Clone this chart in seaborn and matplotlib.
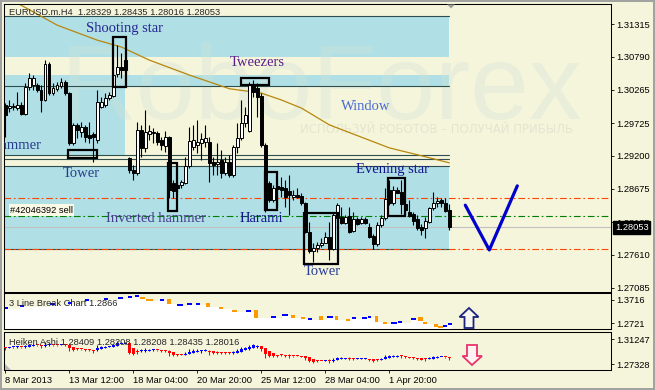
import matplotlib
matplotlib.use("Agg")
import matplotlib.pyplot as plt
import matplotlib.transforms as mtransforms
from matplotlib.patches import Rectangle, Polygon
from matplotlib.ticker import FormatStrFormatter
import numpy as np
import pandas as pd
import seaborn as sns

# ---------------- data ----------------
opens = [1.3002, 1.2997, 1.2999, 1.2997, 1.3002, 1.2987, 1.3031, 1.3034, 1.3034, 1.3026,
         1.3010, 1.3068, 1.3021, 1.3028, 1.3032, 1.3039, 1.3021, 1.2941, 1.2970, 1.2959,
         1.2967, 1.2954, 1.2955, 1.2946, 1.2999, 1.3002, 1.3013, 1.3016, 1.3052, 1.3063,
         1.3074, 1.2917, 1.2898, 1.2893, 1.2962, 1.2933, 1.2955, 1.2959, 1.2957, 1.2946,
         1.2936, 1.2951, 1.2877, 1.2873, 1.2873, 1.2877, 1.2904, 1.2934, 1.2938, 1.2941,
         1.2942, 1.2942, 1.2910, 1.2907, 1.2914, 1.2893, 1.2910, 1.2889, 1.2934, 1.2949,
         1.2973, 1.2960, 1.3034, 1.3029, 1.3016, 1.2938, 1.2877, 1.2849, 1.2872, 1.2870,
         1.2869, 1.2864, 1.2854, 1.2857, 1.2856, 1.2845, 1.2798, 1.2767, 1.2772, 1.2777,
         1.2780, 1.2790, 1.2771, 1.2820, 1.2822, 1.2812, 1.2824, 1.2800, 1.2819, 1.2812,
         1.2819, 1.2806, 1.2792, 1.2779, 1.2809, 1.2820, 1.2865, 1.2845, 1.2865, 1.2862,
         1.2843, 1.2830, 1.2827, 1.2819, 1.2806, 1.2804, 1.2814, 1.2837, 1.2845, 1.2849,
         1.2845, 1.28329]
highs = [1.3005, 1.3010, 1.3005, 1.3023, 1.3007, 1.3037, 1.3053, 1.3050, 1.3037, 1.3034,
         1.3074, 1.3071, 1.3037, 1.3039, 1.3045, 1.3042, 1.3023, 1.2973, 1.2973, 1.2975,
         1.2970, 1.2975, 1.2959, 1.3026, 1.3015, 1.3021, 1.3023, 1.3055, 1.3098, 1.3085,
         1.3077, 1.2918, 1.2906, 1.2975, 1.2970, 1.2994, 1.2970, 1.2965, 1.2960, 1.2951,
         1.2960, 1.2952, 1.2881, 1.2878, 1.2881, 1.2918, 1.2967, 1.2970, 1.2978, 1.2957,
         1.2970, 1.2951, 1.2918, 1.2941, 1.2930, 1.2918, 1.2922, 1.2938, 1.2973, 1.3010,
         1.2999, 1.3039, 1.3042, 1.3037, 1.3021, 1.2941, 1.2880, 1.2873, 1.2881, 1.2886,
         1.2881, 1.2889, 1.2865, 1.2869, 1.2861, 1.2846, 1.2814, 1.2780, 1.2782, 1.2788,
         1.2798, 1.2814, 1.2830, 1.2845, 1.2838, 1.2825, 1.2838, 1.2830, 1.2822, 1.2822,
         1.2822, 1.2812, 1.2795, 1.2814, 1.2825, 1.2869, 1.2881, 1.2872, 1.2870, 1.2881,
         1.2849, 1.2849, 1.2830, 1.2825, 1.2811, 1.2822, 1.2838, 1.2862, 1.2854, 1.2852,
         1.2852, 1.28435]
lows = [1.2950, 1.2991, 1.2994, 1.2994, 1.2986, 1.2986, 1.3026, 1.3026, 1.3023, 1.2991,
        1.3008, 1.3018, 1.3018, 1.3024, 1.3029, 1.3018, 1.2938, 1.2938, 1.2949, 1.2951,
        1.2942, 1.2941, 1.2910, 1.2941, 1.2997, 1.2999, 1.3010, 1.3015, 1.3047, 1.3045,
        1.3055, 1.2893, 1.2881, 1.2889, 1.2918, 1.2926, 1.2946, 1.2941, 1.2938, 1.2930,
        1.2926, 1.2853, 1.2853, 1.2862, 1.2869, 1.2875, 1.2901, 1.2930, 1.2925, 1.2914,
        1.2934, 1.2878, 1.2889, 1.2889, 1.2885, 1.2889, 1.2886, 1.2886, 1.2925, 1.2946,
        1.2967, 1.2959, 1.3015, 1.2983, 1.2934, 1.2830, 1.2846, 1.2846, 1.2838, 1.2854,
        1.2838, 1.2825, 1.2849, 1.2853, 1.2841, 1.2796, 1.2764, 1.2750, 1.2766, 1.2774,
        1.2780, 1.2753, 1.2769, 1.2814, 1.2811, 1.2811, 1.2796, 1.2798, 1.2809, 1.2811,
        1.2811, 1.2788, 1.2771, 1.2775, 1.2806, 1.2817, 1.2841, 1.2841, 1.2861, 1.2827,
        1.2827, 1.2822, 1.2809, 1.2801, 1.2793, 1.2788, 1.2812, 1.2833, 1.2838, 1.2838,
        1.2830, 1.28016]
closes = [1.2986, 1.3000, 1.3000, 1.3002, 1.2987, 1.3031, 1.3045, 1.3045, 1.3026, 1.3010,
          1.3068, 1.3021, 1.3029, 1.3034, 1.3039, 1.3021, 1.2941, 1.2970, 1.2962, 1.2967,
          1.2951, 1.2949, 1.2951, 1.3007, 1.3007, 1.3013, 1.3018, 1.3050, 1.3063, 1.3058,
          1.3058, 1.2898, 1.2893, 1.2962, 1.2933, 1.2959, 1.2960, 1.2957, 1.2942, 1.2938,
          1.2951, 1.2865, 1.2864, 1.2869, 1.2878, 1.2904, 1.2944, 1.2946, 1.2942, 1.2947,
          1.2949, 1.2909, 1.2906, 1.2910, 1.2893, 1.2910, 1.2889, 1.2934, 1.2949, 1.2973,
          1.2986, 1.3034, 1.3023, 1.3015, 1.2938, 1.2833, 1.2849, 1.2869, 1.2867, 1.2865,
          1.2854, 1.2857, 1.2857, 1.2854, 1.2845, 1.2798, 1.2767, 1.2772, 1.2777, 1.2780,
          1.2790, 1.2771, 1.2825, 1.2841, 1.2812, 1.2822, 1.2798, 1.2819, 1.2811, 1.2819,
          1.2812, 1.2790, 1.2779, 1.2809, 1.2820, 1.2851, 1.2845, 1.2865, 1.2861, 1.2843,
          1.2833, 1.2824, 1.2816, 1.2804, 1.2801, 1.2816, 1.2837, 1.2845, 1.2848, 1.2845,
          1.2832, 1.28053]

# moving average read at a few candle positions
ma_idx = [-1, 4, 13, 23, 29, 36, 46, 56, 64, 69, 74, 81, 96, 103, 111]
ma_val = [1.3178, 1.3162, 1.3130, 1.3106, 1.3095, 1.3074, 1.3050, 1.3028, 1.3021,
          1.3010, 1.2997, 1.2970, 1.2933, 1.2922, 1.2909]

# forecast "V" drawing
v_idx = [115, 121, 128]
v_val = [1.2841, 1.2769, 1.2872]

price_ticks = [1.31315, 1.30790, 1.30265, 1.29725, 1.29200, 1.28675, 1.28135, 1.27610, 1.27085]
last_price = 1.28053
order_label = "#42046392 sell"
sell_level = 1.28236
sl_level = 1.28525
tp_level = 1.27706

# support / resistance zones
zone_lo = [1.30790, 1.30324, 1.27706]
zone_hi = [1.31448, 1.30501, 1.29039]
zone_end = 110.9
left_zone_lo = 1.29216
left_zone_hi = 1.30324
left_zone_end = 29.9
zone_lines = [1.31448, 1.30324, 1.29216, 1.29151, 1.29039, 1.27706]

# pattern boxes
box_i0 = [26.85, 58.85, 15.7, 40.7, 64.9, 74.7, 95.7]
box_i1 = [30.1, 66.0, 22.9, 42.9, 67.9, 83.2, 100.0]
box_lo = [1.3031, 1.3034, 1.2917, 1.2832, 1.2833, 1.2747, 1.2824]
box_hi = [1.3111, 1.3045, 1.2930, 1.2909, 1.2894, 1.2828, 1.2885]

# pattern labels
lab_text = ["Shooting star", "Tweezers", "Window", "Tower", "Evening star",
            "Inverted hammer", "Harami", "Tower"]
lab_i = [29.8, 62.9, 90.0, 18.9, 96.7, 37.8, 63.9, 79.2]
lab_p = [1.31255, 1.30709, 1.29987, 1.28911, 1.28975, 1.28188, 1.28188, 1.27337]
lab_col = ["#27278F", "#5A1E8C", "#4A6CD4", "#283C8C", "#14148C", "#483D8B", "#14148C", "#283C96"]
hammer_i = 9.2
hammer_p = 1.29376

# 3 Line Break indicator blocks
lb_x0 = [-0.1, 3.7, 11.2, 15.7, 19.9, 24.7, 28.2, 30.7, 32.4, 33.7, 35.2, 38.7, 40.4, 42.9,
         45.4, 47.7, 50.2, 53.4, 56.7, 60.2, 62.2, 66.4, 69.2, 71.4, 73.9, 75.7, 78.4, 80.4,
         82.4, 85.2, 86.7, 89.2, 90.7, 92.4, 94.4, 96.4, 98.2, 101.4, 103.2, 104.4, 107.2,
         108.2, 109.4, 110.7]
lb_x1 = [0.7, 4.7, 12.4, 16.7, 20.9, 25.7, 29.4, 31.7, 33.4, 34.9, 36.9, 39.7, 41.4, 44.4,
         46.7, 48.7, 51.2, 54.4, 57.9, 61.4, 63.2, 67.7, 70.7, 72.4, 74.9, 76.7, 79.4, 81.9,
         83.2, 86.2, 87.7, 90.4, 91.4, 93.2, 95.4, 97.9, 99.2, 102.7, 104.4, 105.4, 108.2,
         109.4, 110.4, 111.7]
lb_hi = [1.3417, 1.3502, 1.3588, 1.3631, 1.3759, 1.3801, 1.3844, 1.3887, 1.3930, 1.3844,
         1.3759, 1.3759, 1.3759, 1.3545, 1.3588, 1.3588, 1.3588, 1.3417, 1.3289, 1.3289,
         1.3289, 1.3033, 1.3118, 1.3076, 1.2990, 1.2947, 1.3033, 1.3033, 1.3033, 1.2905,
         1.2990, 1.2990, 1.3033, 1.3033, 1.2777, 1.2777, 1.2819, 1.2947, 1.2990, 1.2777,
         1.2691, 1.2606, 1.2649, 1.2734]
lb_lo = [1.3332, 1.3417, 1.3502, 1.3545, 1.3673, 1.3716, 1.3759, 1.3801, 1.3844, 1.3759,
         1.3673, 1.3673, 1.3545, 1.3460, 1.3502, 1.3502, 1.3417, 1.3332, 1.3204, 1.3204,
         1.2947, 1.2947, 1.3033, 1.2947, 1.2905, 1.2862, 1.2862, 1.2947, 1.2862, 1.2819,
         1.2905, 1.2905, 1.2947, 1.2777, 1.2691, 1.2691, 1.2734, 1.2862, 1.2819, 1.2691,
         1.2563, 1.2520, 1.2563, 1.2649]
lb_up = [1, 1, 1, 1, 1, 1, 1, 1, 1, 0, 0, 1, 0, 1, 1, 1, 0, 0, 0, 1, 0, 1, 1, 0, 0, 1, 0, 1,
         0, 0, 1, 1, 1, 0, 0, 1, 1, 1, 0, 0, 0, 0, 1, 1]
lb_title = "3 Line Break Chart 1.2866"
lb_ticks = [1.3716, 1.2721]

ha_title = "Heiken Ashi 1.28409 1.28208 1.28208 1.28435 1.28016"
ha_ticks = [1.31247, 1.27328]

date_ticks = [0, 16, 32, 48, 64, 80, 96]
date_labels = ["8 Mar 2013", "13 Mar 12:00", "18 Mar 04:00", "20 Mar 20:00",
               "25 Mar 12:00", "28 Mar 04:00", "1 Apr 20:00"]
chart_title = "EURUSD.m.H4  1.28329 1.28435 1.28016 1.28053"

# ---------------- style ----------------
CREAM = "#F5F5DC"
ZONE = "#B0E0E6"
sns.set_style("white")
plt.rcParams["font.family"] = ["Liberation Sans", "DejaVu Sans"]
SERIF = ["Liberation Serif", "DejaVu Serif"]
TS = 6.7

W, H = 655, 390
fig = plt.figure(figsize=(W / 100, H / 100), dpi=100, facecolor=CREAM)


def rect(l, t, r, b):
    return [l / W, 1 - b / H, (r - l) / W, (b - t) / H]


ax = fig.add_axes(rect(4, 4.3, 611, 291.7))
ax1 = fig.add_axes(rect(4, 293.3, 611, 329.3), sharex=ax)
ax2 = fig.add_axes(rect(4, 332.3, 611, 370), sharex=ax)

for a in (ax, ax1, ax2):
    a.set_facecolor(CREAM)
    for s in a.spines.values():
        s.set_color("black")
        s.set_linewidth(0.75)
    a.yaxis.tick_right()
    a.tick_params(axis="y", which="both", direction="out", length=2.2, width=0.6,
                  pad=1.5, labelsize=TS, right=True, left=False, colors="black")
    a.set_xlabel("")
    a.set_ylabel("")

df = pd.DataFrame({"o": opens, "h": highs, "l": lows, "c": closes})
idx = np.arange(len(df))
up = (df.c >= df.o).values

# ---- zones ----
for lo, hi in zip(zone_lo, zone_hi):
    ax.add_patch(Rectangle((-1, lo), zone_end + 1, hi - lo, facecolor=ZONE,
                           edgecolor="none", zorder=0.5))
ax.add_patch(Rectangle((-1, left_zone_lo), left_zone_end + 1, left_zone_hi - left_zone_lo,
                       facecolor=ZONE, edgecolor="none", zorder=0.5))
for y in zone_lines:
    ax.plot([-1, zone_end], [y, y], color="#2F4F4F", lw=0.8, zorder=1.2)

# faint watermark
ax.text(0.093, 0.60, "RoboForex", transform=ax.transAxes, fontsize=76,
        color="#D2E1D7", alpha=0.35, ha="left", va="baseline", zorder=0.8,
        family=["Liberation Sans", "DejaVu Sans"])
ax.text(0.487, 0.563, "ИСПОЛЬЗУЙ РОБОТОВ – ПОЛУЧАЙ ПРИБЫЛЬ", transform=ax.transAxes,
        fontsize=8.5, color="#D8DBC8", alpha=0.6, ha="left", va="center", zorder=0.8,
        family=["DejaVu Sans"])

# ---- order / price levels ----
dd = (0, (6, 2.5, 1.5, 2.5))
ax.axhline(sl_level, color="#FF4500", lw=0.8, ls=dd, zorder=1.5)
ax.axhline(tp_level, color="#FF4500", lw=0.8, ls=dd, zorder=1.5)
ax.axhline(sell_level, color="#008000", lw=0.8, ls=dd, zorder=1.5)
ax.axhline(last_price, color="#C0C0C0", lw=0.8, zorder=1.4)

# moving average
sns.lineplot(x=ma_idx, y=ma_val, ax=ax, color="#B8860B", linewidth=0.9, sort=False,
             zorder=2)

# ---- candles ----
ax.vlines(idx, df.l, df.h, color="black", lw=0.8, zorder=3)
body_lo = np.minimum(df.o, df.c)
body_h = np.maximum((df.c - df.o).abs(), 0.00006)
ax.bar(idx, body_h, bottom=body_lo, width=0.6,
       color=np.where(up, "white", "black"), edgecolor="black", linewidth=0.7, zorder=4)

# pattern boxes
for x0, x1, lo, hi in zip(box_i0, box_i1, box_lo, box_hi):
    ax.add_patch(Rectangle((x0, lo), x1 - x0, hi - lo, fill=False, edgecolor="black",
                           lw=1.6, zorder=5))

# forecast V
sns.lineplot(x=v_idx, y=v_val, ax=ax, color="#0000CD", linewidth=2.3, sort=False,
             zorder=5)

# labels
for t, xi, p, c in zip(lab_text, lab_i, lab_p, lab_col):
    ax.text(xi, p, t, color=c, fontsize=10.5, family=SERIF, ha="center", va="center",
            zorder=6)
ax.text(hammer_i, hammer_p, "Hammer", color="#283C8C", fontsize=10.5, family=SERIF,
        ha="right", va="center", zorder=6, clip_on=True)

ax.text(1.2, 1.28332, order_label, fontsize=TS, color="black", ha="left", va="center",
        zorder=6, bbox=dict(boxstyle="square,pad=0.12", fc="#FAFAE6", ec="none"))
ax.text(0.0082, 0.973, chart_title, transform=ax.transAxes, fontsize=TS, ha="left",
        va="center", zorder=7)

ax.set_xlim(-0.325, 151.425)
ax.set_ylim(1.27020, 1.31636)
ax.set_yticks(price_ticks)
ax.yaxis.set_major_formatter(FormatStrFormatter("%.5f"))
blend = mtransforms.blended_transform_factory(ax.transAxes, ax.transData)
ax.text(1.0066, last_price, f"{last_price:.5f}", transform=blend, color="white",
        fontsize=TS, ha="left", va="center", zorder=8, clip_on=False,
        bbox=dict(boxstyle="square,pad=0.2", fc="black", ec="black"))

# ---- 3 line break panel ----
lb_bottom = 1.2465
step_x = list(lb_x0) + [lb_x1[-1]]
step_y = list(lb_lo) + [lb_lo[-1]]
step_x[0] = -0.5
ax1.fill_between(step_x, step_y, lb_bottom, step="post", color="white", lw=0, zorder=1)
lb_c = ["#0000FF" if u else "#FF9900" for u in lb_up]
ax1.bar([(a + b) / 2 for a, b in zip(lb_x0, lb_x1)],
        [h - l for h, l in zip(lb_hi, lb_lo)], bottom=lb_lo,
        width=[b - a for a, b in zip(lb_x0, lb_x1)], color=lb_c, linewidth=0, zorder=2)
ax1.set_ylim(lb_bottom, 1.4002)
ax1.set_yticks(lb_ticks)
ax1.yaxis.set_major_formatter(FormatStrFormatter("%.4f"))
ax1.text(0.0082, 0.711, lb_title, transform=ax1.transAxes, fontsize=TS, ha="left",
         va="center", zorder=5)

# ---- Heiken Ashi panel ----
ha_c = (df.o + df.h + df.l + df.c).values / 4
ha_o = np.zeros(len(df))
ha_o[0] = (opens[0] + closes[0]) / 2
for k in range(1, len(df)):
    ha_o[k] = (ha_o[k - 1] + ha_c[k - 1]) / 2
ha_h = np.maximum.reduce([df.h.values, ha_o, ha_c])
ha_l = np.minimum.reduce([df.l.values, ha_o, ha_c])
ha_col = np.where(ha_c >= ha_o, "#0000FF", "#FF0000")
ax2.vlines(idx, ha_l, ha_h, colors=ha_col, lw=0.75, zorder=2)
ax2.bar(idx, np.maximum(np.abs(ha_c - ha_o), 0.0016), bottom=np.minimum(ha_o, ha_c),
        width=0.7, color=ha_col, linewidth=0, zorder=3)
ax2.set_ylim(1.26387, 1.32344)
ax2.set_yticks(ha_ticks)
ax2.yaxis.set_major_formatter(FormatStrFormatter("%.5f"))
ax2.text(0.0082, 0.735, ha_title, transform=ax2.transAxes, fontsize=TS, ha="left",
         va="center", zorder=5)

for a in (ax, ax1):
    a.tick_params(axis="x", bottom=False, labelbottom=False, top=False)
ax2.set_xticks(date_ticks)
ax2.set_xticklabels(date_labels, ha="left")
ax2.tick_params(axis="x", bottom=True, direction="out", length=2.5, width=0.6, pad=1.5,
                labelsize=TS, colors="black")
ax2.set_xlim(-0.325, 151.425)

# ---- decorations in pixel space ----
deco = fig.add_axes([0, 0, 1, 1], zorder=10)
deco.set_xlim(0, W)
deco.set_ylim(H, 0)
deco.axis("off")
deco.patch.set_alpha(0)
deco.add_patch(Polygon([(469, 308), (478.5, 317), (473.5, 317), (473.5, 328), (464.5, 328),
                        (464.5, 317), (459.5, 317)], closed=True, fc="#F8F8EE",
                       ec="#1A237E", lw=1.3))
deco.add_patch(Polygon([(467, 345), (477, 345), (477, 356), (482, 356), (472, 365),
                        (462.5, 356), (467, 356)], closed=True, fc="#FFF2F2",
                       ec="#E8336B", lw=1.3))
deco.add_patch(Polygon([(447, 4.5), (455, 4.5), (451, 8.5)], closed=True, fc="#A0A0A0",
                       ec="none"))
deco.add_patch(Polygon([(5, 364), (5, 369.5), (10.5, 369.5)], closed=True, fc="#B8B8B8",
                       ec="none"))
deco.add_patch(Rectangle((0.8, 0.8), W - 1.6, H - 1.6, fill=False, ec="#A0A0A0", lw=1.4))

fig.savefig("out.png", dpi=100, facecolor=CREAM)
